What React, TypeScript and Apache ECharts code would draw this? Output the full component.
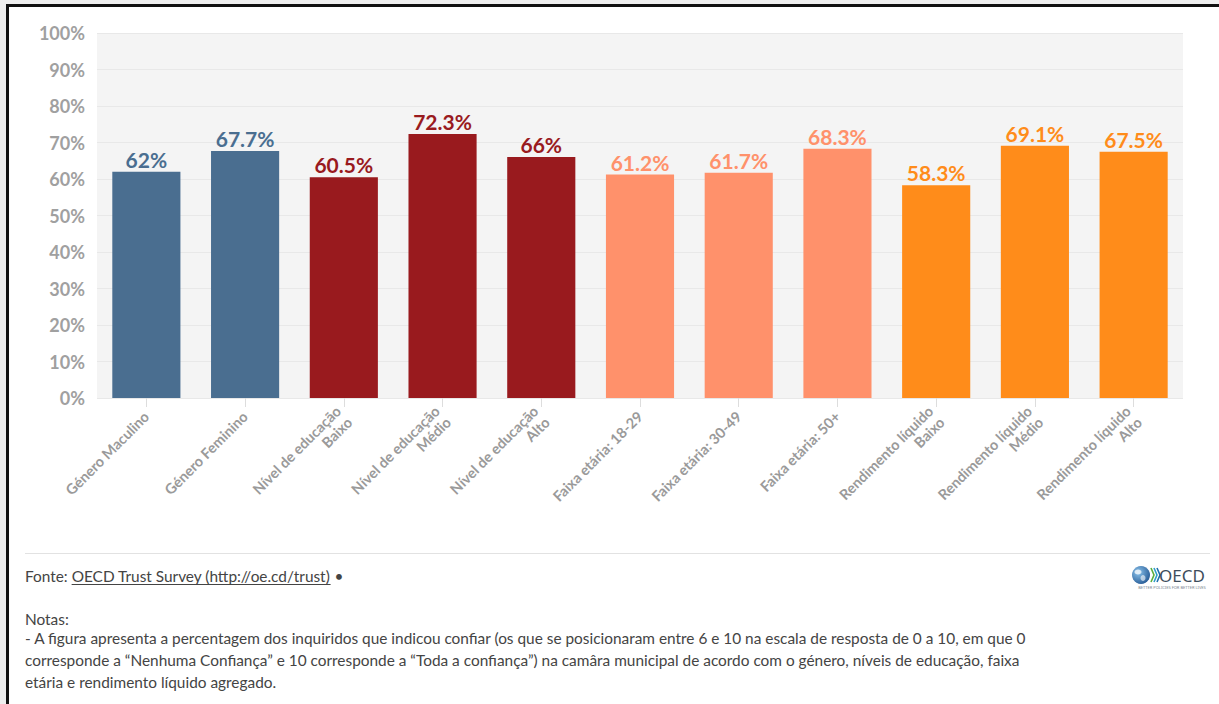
import React, { useEffect, useRef } from "react";
import * as echarts from "echarts";

const categories = [
  "Género Maculino",
  "Género Feminino",
  "Nível de educação\nBaixo",
  "Nível de educação\nMédio",
  "Nível de educação\nAlto",
  "Faixa etária: 18-29",
  "Faixa etária: 30-49",
  "Faixa etária: 50+",
  "Rendimento líquido\nBaixo",
  "Rendimento líquido\nMédio",
  "Rendimento líquido\nAlto",
];
const values = [62, 67.7, 60.5, 72.3, 66, 61.2, 61.7, 68.3, 58.3, 69.1, 67.5];
const groups = [
  "genero", "genero",
  "educacao", "educacao", "educacao",
  "idade", "idade", "idade",
  "rendimento", "rendimento", "rendimento",
];
const yMin = 0;
const yMax = 100;
const yStep = 10;

const sourcePrefix = "Fonte: ";
const sourceLink = "OECD Trust Survey (http://oe.cd/trust)";
const sourceSuffix = " •";
const notesTitle = "Notas:";
const notesLines = [
  "- A figura apresenta a percentagem dos inquiridos que indicou confiar (os que se posicionaram entre 6 e 10 na escala de resposta de 0 a 10, em que 0",
  "corresponde a “Nenhuma Confiança” e 10 corresponde a “Toda a confiança”) na camâra municipal de acordo com o género, níveis de educação, faixa",
  "etária e rendimento líquido agregado.",
];

const groupColors: Record<string, string> = {
  genero: "#4a6e90",
  educacao: "#991a1e",
  idade: "#ff916b",
  rendimento: "#ff8c1a",
};

const FONT = "Lato, 'Noto Sans', sans-serif";
const FOOT_SIZE = 15.4;

function measure(text: string, font: string): number {
  const c = document.createElement("canvas");
  const ctx = c.getContext("2d");
  if (!ctx) return text.length * 7;
  ctx.font = font;
  return ctx.measureText(text).width;
}

export default function App() {
  const ref = useRef<HTMLDivElement>(null);

  useEffect(() => {
    document.body.style.margin = "0";
    if (!ref.current) return;
    const chart = echarts.init(ref.current, undefined, { renderer: "svg" });

    const footFont = `${FOOT_SIZE}px ${FONT}`;
    const x0 = 25;
    const wPrefix = measure(sourcePrefix, footFont);
    const wLink = measure(sourceLink, footFont);
    const sourceY = 576;

    const textStyle = (text: string, x: number, y: number, extra: any = {}) => ({
      type: "text",
      style: {
        text,
        x,
        y,
        font: footFont,
        fill: "#444",
        textVerticalAlign: "middle",
        verticalAlign: "middle",
        ...extra,
      },
    });

    const graphic: any[] = [
      { type: "rect", shape: { x: 0, y: 0, width: 1219, height: 4 }, style: { fill: "#eeeeee" } },
      { type: "rect", shape: { x: 0, y: 0, width: 6, height: 704 }, style: { fill: "#eeeeee" } },
      { type: "rect", shape: { x: 6, y: 4, width: 1213, height: 3 }, style: { fill: "#111" } },
      { type: "rect", shape: { x: 6, y: 4, width: 3, height: 700 }, style: { fill: "#111" } },
      {
        type: "line",
        shape: { x1: 25, y1: 553.5, x2: 1210, y2: 553.5 },
        style: { stroke: "#e2e2e2", lineWidth: 1 },
      },
      textStyle(sourcePrefix, x0, sourceY),
      textStyle(sourceLink, x0 + wPrefix, sourceY),
      {
        type: "line",
        shape: { x1: x0 + wPrefix, y1: sourceY + 8.5, x2: x0 + wPrefix + wLink, y2: sourceY + 8.5 },
        style: { stroke: "#444", lineWidth: 1 },
      },
      textStyle(sourceSuffix, x0 + wPrefix + wLink, sourceY),
      textStyle(notesTitle, x0, 619),
      ...notesLines.map((l, i) => textStyle(l, x0, 638 + i * 22)),
      // OECD logo
      {
        type: "circle",
        shape: { cx: 1141, cy: 575, r: 9 },
        style: {
          fill: new echarts.graphic.RadialGradient(0.35, 0.35, 0.8, [
            { offset: 0, color: "#8cc4ec" },
            { offset: 1, color: "#1b4f8c" },
          ]),
        },
      },
      {
        type: "ellipse",
        shape: { cx: 1138, cy: 572, rx: 3.5, ry: 2.5 },
        style: { fill: "rgba(255,255,255,0.75)" },
      },
      {
        type: "ellipse",
        shape: { cx: 1143, cy: 578, rx: 2.5, ry: 3 },
        style: { fill: "rgba(255,255,255,0.6)" },
      },
      ...[0, 1, 2].map((i) => ({
        type: "polyline",
        shape: {
          points: [
            [1151 + i * 3, 568],
            [1154 + i * 3, 575],
            [1151 + i * 3, 582],
          ],
        },
        style: { stroke: ["#5cae3c", "#2f9fc8", "#1f6fb0"][i], lineWidth: 1.6, fill: "none" },
      })),
      {
        type: "text",
        style: {
          text: "OECD",
          x: 1159,
          y: 575,
          font: `17px 'Noto Sans', sans-serif`,
          fill: "#3e4d5c",
          textVerticalAlign: "middle",
          verticalAlign: "middle",
        },
      },
      {
        type: "text",
        style: {
          text: "BETTER POLICIES FOR BETTER LIVES",
          x: 1172,
          y: 587,
          font: `4px 'Noto Sans', sans-serif`,
          fill: "#7a8590",
          align: "center",
          textAlign: "center",
          textVerticalAlign: "middle",
          verticalAlign: "middle",
        },
      },
    ];

    chart.setOption({
      animation: false,
      backgroundColor: "#ffffff",
      textStyle: { fontFamily: FONT },
      grid: {
        left: 97,
        right: 36,
        top: 33,
        bottom: 306,
        show: true,
        backgroundColor: "#f4f4f4",
        borderWidth: 0,
        containLabel: false,
      },
      xAxis: {
        type: "category",
        data: categories,
        axisLine: { show: false },
        axisTick: {
          show: true,
          alignWithLabel: true,
          length: 9,
          lineStyle: { color: "#dddddd" },
        },
        axisLabel: {
          rotate: 45,
          interval: 0,
          margin: 16,
          color: "#9a9a9a",
          fontSize: 14.5,
          fontWeight: "bold",
          fontFamily: FONT,
          lineHeight: 16,
        },
      },
      yAxis: {
        type: "value",
        min: yMin,
        max: yMax,
        interval: yStep,
        axisLine: { show: false },
        axisTick: { show: false },
        axisLabel: {
          formatter: "{value}%",
          color: "#a0a0a0",
          fontSize: 18,
          fontWeight: "bold",
          fontFamily: FONT,
          margin: 12,
        },
        splitLine: { show: true, lineStyle: { color: "#e8e8e8", width: 1 } },
      },
      series: [
        {
          type: "bar",
          barCategoryGap: "31%",
          data: values.map((v, i) => ({
            value: v,
            itemStyle: { color: groupColors[groups[i]] },
            label: { color: groupColors[groups[i]] },
          })),
          label: {
            show: true,
            position: "top",
            distance: 2,
            formatter: (p: any) => `${p.value}%`,
            fontSize: 21,
            fontWeight: "bold",
            fontFamily: FONT,
          },
        },
      ],
      graphic,
    });

    return () => chart.dispose();
  }, []);

  return <div ref={ref} style={{ width: 1219, height: 704 }} />;
}
